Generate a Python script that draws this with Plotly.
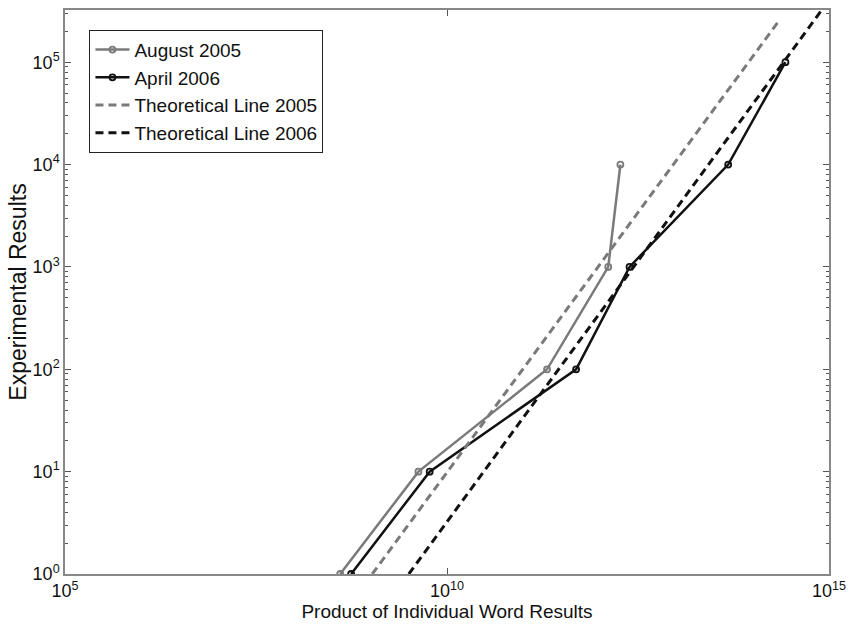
import plotly.graph_objects as go

# Data
aug_x = [4.0e8, 4.23e9, 2.04e11, 1.29e12, 1.86e12]
aug_y = [1, 10, 100, 1000, 10000]
apr_x = [5.56e8, 5.93e9, 4.9e11, 2.45e12, 4.79e13, 2.69e14]
apr_y = [1, 10, 100, 1000, 10000, 100000]
theo05_x = [1.05e9, 2.19e14]
theo05_y = [1, 2.51e5]
theo06_x = [3.16e9, 8.04e14]
theo06_y = [1, 3.24e5]

x_ticks = [1e5, 1e10, 1e15]
x_tick_text = ["10<sup>5</sup>", "10<sup>10</sup>", "10<sup>15</sup>"]
y_ticks = [1, 10, 100, 1000, 10000, 100000]
y_tick_text = ["10<sup>%d</sup>" % i for i in range(6)]
y_minor = [m * 10 ** k for k in range(0, 6) for m in range(2, 10)]

GRAY = "#7a7a7a"
BLACK = "#111111"
FONT = "Liberation Sans, Arial, sans-serif"

fig = go.Figure()
fig.add_trace(go.Scatter(x=aug_x, y=aug_y, mode="lines+markers", name="August 2005",
                         line=dict(color=GRAY, width=2.5),
                         marker=dict(symbol="circle-open", size=6, color=GRAY, line=dict(width=1.8, color=GRAY))))
fig.add_trace(go.Scatter(x=apr_x, y=apr_y, mode="lines+markers", name="April 2006",
                         line=dict(color=BLACK, width=2.5),
                         marker=dict(symbol="circle-open", size=6, color=BLACK, line=dict(width=1.8, color=BLACK))))
fig.add_trace(go.Scatter(x=theo05_x, y=theo05_y, mode="lines", name="Theoretical Line 2005",
                         line=dict(color=GRAY, width=3, dash="8px,5px")))
fig.add_trace(go.Scatter(x=theo06_x, y=theo06_y, mode="lines", name="Theoretical Line 2006",
                         line=dict(color=BLACK, width=3, dash="8px,5px")))

fig.update_layout(
    width=854, height=628,
    margin=dict(l=65, r=20, t=8, b=54),
    paper_bgcolor="white", plot_bgcolor="white",
    font=dict(family=FONT, size=18, color="#111111"),
    showlegend=True,
    legend=dict(x=0.032, y=0.965, xanchor="left", yanchor="top",
                bordercolor="#222222", borderwidth=1, bgcolor="white",
                font=dict(size=19, family=FONT), itemwidth=34,
                tracegroupgap=0),
)
fig.update_xaxes(type="log", range=[5, 15], tickmode="array", tickvals=x_ticks, ticktext=x_tick_text,
                 ticks="inside", ticklen=6, tickcolor="#555555", showgrid=False, zeroline=False,
                 showline=True, linecolor="#888888", linewidth=1.5, mirror="allticks",
                 title=dict(text="Product of Individual Word Results", standoff=4, font=dict(size=19)),
                 tickfont=dict(size=18))
fig.update_yaxes(type="log", range=[0, 5.51], tickmode="array", tickvals=y_ticks, ticktext=y_tick_text,
                 ticks="inside", ticklen=6, tickcolor="#555555", showgrid=False, zeroline=False,
                 showline=True, linecolor="#888888", linewidth=1.5, mirror="allticks",
                 minor=dict(tickmode="array", tickvals=y_minor, ticks="inside", ticklen=3,
                            tickcolor="#555555", showgrid=False),
                 title=dict(text="Experimental Results", standoff=0, font=dict(size=23)),
                 tickfont=dict(size=18))

fig.write_html("out.html")
